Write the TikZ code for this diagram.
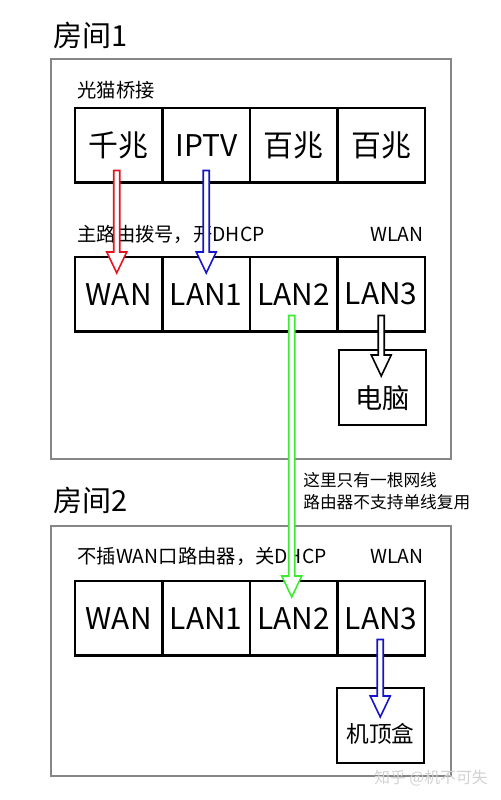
\documentclass[tikz,border=0pt]{standalone}
\usepackage{fontspec}
\setmainfont{Noto Sans CJK SC}
\usetikzlibrary{calc,positioning}

\definecolor{lanred}{RGB}{228,20,30}
\definecolor{lanblue}{RGB}{20,20,200}
\definecolor{langreen}{RGB}{60,235,50}

\begin{document}
\begin{tikzpicture}[x=0.02cm,y=-0.02cm,
    room/.style={draw=gray!95, line width=1pt, minimum width=8cm, inner sep=0pt, anchor=north west},
    port/.style={draw, line width=1.2pt, minimum width=1.75cm, minimum height=1.49cm, inner sep=0pt, outer sep=0pt, anchor=north west, font=\fontsize{17}{20}\selectfont},
    device/.style={draw, line width=1.2pt, minimum width=1.74cm, minimum height=1.5cm, inner sep=0pt, anchor=north west, text depth=0pt},
    hint/.style={inner sep=0pt, anchor=west, font=\fontsize{11}{13}\selectfont},
    title/.style={inner sep=0pt, anchor=west, font=\fontsize{16.5}{20}\selectfont},
    hollow/.style={draw=#1, line width=0.9pt, fill=white, line join=miter,
      to path={let \p1=(\tikztostart), \p2=(\tikztotarget) in
        (\x1-0.06cm,\y1) -- (\x1+0.06cm,\y1) -- (\x1+0.06cm,\y2+0.42cm) -- (\x1+0.2cm,\y2+0.42cm)
        -- (\x1,\y2) -- (\x1-0.2cm,\y2+0.42cm) -- (\x1-0.06cm,\y2+0.42cm) -- cycle}}
  ]
  \useasboundingbox (0,0) rectangle (500,800);

  % Rooms
  \node[title] (title1) at (53,35) {房间1};
  \node[room, minimum height=8cm] (room1) at (50,58) {};
  \node[title] (title2) at (53,500) {房间2};
  \node[room, minimum height=5cm] (room2) at (50,525) {};

  % Modem ports
  \node[hint] (modem) at (77,90) {光猫桥接};
  \foreach \i/\txt in {1/千兆, 2/IPTV, 3/百兆, 4/百兆} {
    \node[port] (m\i) at ({75+87.5*(\i-1)},108) {\txt};
  }

  % Main router
  \node[hint] (router1) at (77,234) {主路由拨号，开DHCP};
  \node[hint, anchor=east] (wlan1) at (424,234) {WLAN};
  \foreach \i/\txt in {1/WAN, 2/LAN1, 3/LAN2, 4/LAN3} {
    \node[port] (a\i) at ({75+87.5*(\i-1)},257) {\txt};
  }
  \node[device, text height=0.84cm, font=\fontsize{15.5}{18}\selectfont] (pc) at (338,349) {电脑};

  % Cable note
  \node[hint, align=left, font=\fontsize{9.5}{12.5}\selectfont] (note) at (303,491) {这里只有一根网线\\路由器不支持单线复用};

  % Second router
  \node[hint] (router2) at (77,556) {不插WAN口路由器，关DHCP};
  \node[hint, anchor=east] (wlan2) at (424,556) {WLAN};
  \foreach \i/\txt in {1/WAN, 2/LAN1, 3/LAN2, 4/LAN3} {
    \node[port] (b\i) at ({75+87.5*(\i-1)},581) {\txt};
  }
  \node[device, text height=0.66cm, font=\fontsize{12.9}{15}\selectfont] (stb) at (336,687) {机顶盒};

  % Arrow ends
  \coordinate (r0) at ($(m1.south)+(-2,-12)$);
  \coordinate (r1) at ($(a1.north)+(-2,16)$);
  \coordinate (u0) at ($(m2.south)+(0,-12)$);
  \coordinate (u1) at ($(a2.north)+(0,16)$);
  \coordinate (g0) at ($(a3.south)+(-2,-16)$);
  \coordinate (g1) at ($(b3.north)+(-2,16)$);
  \coordinate (k0) at ($(a4.south)+(0,-16)$);
  \coordinate (k1) at ($(pc.north)+(0,27)$);
  \coordinate (v0) at ($(b4.south)+(-1,-16)$);
  \coordinate (v1) at ($(stb.north)+(0,30)$);

  % Arrows
  \draw[hollow=lanred] (r0) to (r1);
  \draw[hollow=lanblue] (u0) to (u1);
  \draw[hollow=langreen] (g0) to (g1);
  \draw[hollow=black] (k0) to (k1);
  \draw[hollow=lanblue] (v0) to (v1);

  % Watermark
  \node[inner sep=0pt, anchor=east, text=gray!35, font=\fontsize{9}{11}\selectfont] (mark) at (488,778) {知乎 @机不可失};
\end{tikzpicture}
\end{document}
